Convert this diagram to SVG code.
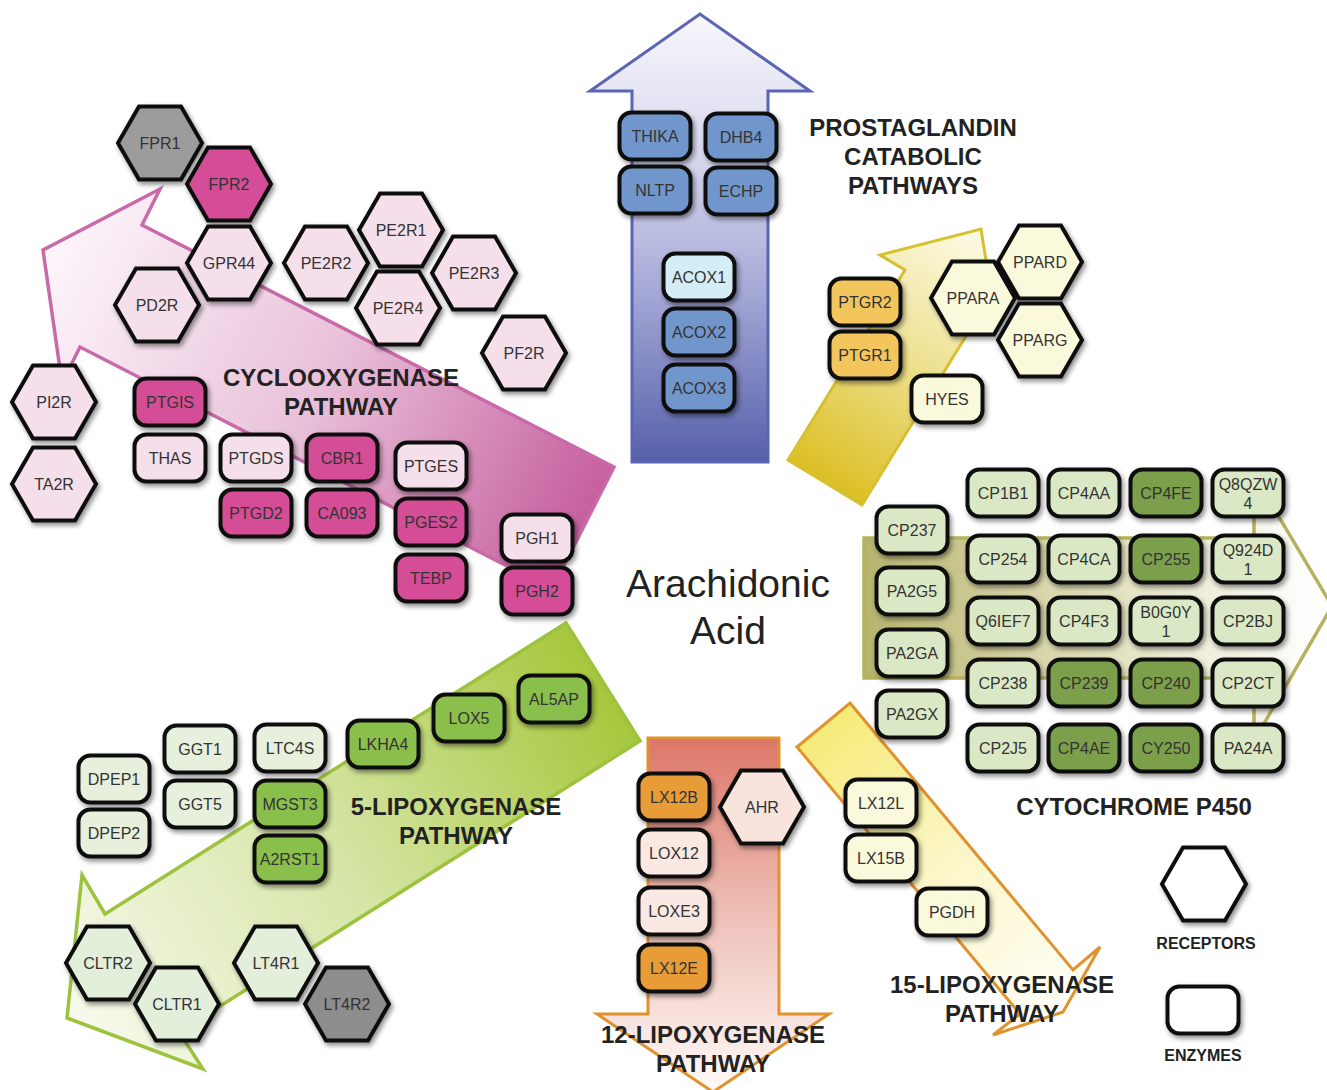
<svg xmlns="http://www.w3.org/2000/svg" width="1327" height="1090" viewBox="0 0 1327 1090">
<defs>
<style>
.hx,.bx{stroke:#111;stroke-width:4;filter:url(#sh)}
.l{font-family:"Liberation Sans",Arial,sans-serif;font-size:16px;fill:#333;text-anchor:middle}
.t{font-family:"Liberation Sans",Arial,sans-serif;font-weight:bold;font-size:24px;fill:#222;text-anchor:middle}
.s{font-family:"Liberation Sans",Arial,sans-serif;font-weight:bold;font-size:16px;fill:#222;text-anchor:middle}
.aa{font-family:"Liberation Sans",Arial,sans-serif;font-size:39px;fill:#222;text-anchor:middle}
.ar{stroke-linejoin:miter}
.gy{fill:#9c9c9c}.gy2{fill:#8d8d8d}.mag{fill:#d44e96}.lp{fill:#f5dfeb}
.bl{fill:#7196cb}.lb{fill:#d5edf7}.or{fill:#f2c65d}.cr{fill:#fbf9dc}
.cl{fill:#dbe8c5}.cd{fill:#7b9f4b}.g5{fill:#8bbf4b}.gl{fill:#e6f0dd}
.o12{fill:#e89c38}.p12{fill:#fae8e2}.ahr{fill:#f8e4dc}.cg{fill:#e3eedb}.wh{fill:#fff}
</style>
<filter id="sh" x="-25%" y="-25%" width="160%" height="170%">
<feDropShadow dx="2" dy="3" stdDeviation="2.5" flood-color="#000" flood-opacity="0.45"/>
</filter>
<path id="hex" d="M-42,0 L-21,-36.4 L21,-36.4 L42,0 L21,36.4 L-21,36.4 Z"/>
<rect id="box" x="-35.5" y="-23.5" width="71" height="47" rx="12"/>
<linearGradient id="gB" x1="0" y1="14" x2="0" y2="462" gradientUnits="userSpaceOnUse">
<stop offset="0" stop-color="#f7f7fc"/><stop offset="0.3" stop-color="#d9daef"/><stop offset="0.6" stop-color="#a9acd8"/><stop offset="1" stop-color="#5560aa"/></linearGradient>
<linearGradient id="gP" x1="43" y1="250" x2="583" y2="528" gradientUnits="userSpaceOnUse">
<stop offset="0" stop-color="#fdf6fa"/><stop offset="0.5" stop-color="#e9c2da"/><stop offset="1" stop-color="#c65f9e"/></linearGradient>
<linearGradient id="gY" x1="825" y1="483" x2="981" y2="229" gradientUnits="userSpaceOnUse">
<stop offset="0" stop-color="#dcbf24"/><stop offset="0.55" stop-color="#efe398"/><stop offset="1" stop-color="#fdfbe8"/></linearGradient>
<linearGradient id="gC" x1="864" y1="0" x2="1320" y2="0" gradientUnits="userSpaceOnUse">
<stop offset="0" stop-color="#b6b36e"/><stop offset="0.4" stop-color="#d9d7ab"/><stop offset="1" stop-color="#ffffff"/></linearGradient>
<linearGradient id="gG" x1="603" y1="682" x2="67" y2="1018" gradientUnits="userSpaceOnUse">
<stop offset="0" stop-color="#a6c73c"/><stop offset="0.5" stop-color="#d5e5a5"/><stop offset="1" stop-color="#f8faee"/></linearGradient>
<linearGradient id="gR" x1="0" y1="738" x2="0" y2="1092" gradientUnits="userSpaceOnUse">
<stop offset="0" stop-color="#dc7668"/><stop offset="0.5" stop-color="#efc0b8"/><stop offset="1" stop-color="#fefaf8"/></linearGradient>
<linearGradient id="gL" x1="823" y1="725" x2="1063" y2="1012" gradientUnits="userSpaceOnUse">
<stop offset="0" stop-color="#f6ea78"/><stop offset="0.5" stop-color="#fbf6c8"/><stop offset="1" stop-color="#fffef8"/></linearGradient>
</defs>
<rect width="1327" height="1090" fill="#fff"/>

<g id="connectors">
<polygon id="arrow-catabolic" class="ar" points="632,462 632,91 590,91 700,14 810,91 768,91 768,462" fill="url(#gB)" stroke="#5b64b5" stroke-width="3"/>
<polygon id="arrow-cox" class="ar" points="614,467 142,225 160,189 43,250 62,383 80,347 552,589" fill="url(#gP)" stroke="#c86aa9" stroke-width="3.5"/>
<polygon id="arrow-ptgr" class="ar" points="788,460 905,270 880,255 981,229 996,323 979,315 862,505" fill="url(#gY)" stroke="#d6c02e" stroke-width="3"/>
<polygon id="arrow-cyp" class="ar" points="864,538 1254,538 1254,475 1332,606 1254,741 1254,678 864,678" fill="url(#gC)" stroke="#b4b25c" stroke-width="3.5"/>
<polygon id="arrow-5lox" class="ar" points="566,623 105,914 82,875 67,1018 203,1069 179,1032 640,741" fill="url(#gG)" stroke="#9dc33e" stroke-width="3.5"/>
<polygon id="arrow-12lox" class="ar" points="648,738 779,738 779,1014 829,1014 713,1092 597,1014 648,1014" fill="url(#gR)" stroke="#e0922f" stroke-width="3"/>
<polygon id="arrow-15lox" class="ar" points="850,703 1073,970 1100,947 1063,1012 993,1035 1020,1014 797,747" fill="url(#gL)" stroke="#e0922f" stroke-width="3"/>
</g>

<g id="titles">
<text class="t" x="913" y="128" dy=".35em">PROSTAGLANDIN</text>
<text class="t" x="913" y="157" dy=".35em">CATABOLIC</text>
<text class="t" x="913" y="186" dy=".35em">PATHWAYS</text>
<text class="t" x="341" y="378" dy=".35em">CYCLOOXYGENASE</text>
<text class="t" x="341" y="407" dy=".35em">PATHWAY</text>
<text class="t" x="456" y="807" dy=".35em">5-LIPOXYGENASE</text>
<text class="t" x="456" y="836" dy=".35em">PATHWAY</text>
<text class="t" x="713" y="1035" dy=".35em">12-LIPOXYGENASE</text>
<text class="t" x="713" y="1064" dy=".35em">PATHWAY</text>
<text class="t" x="1002" y="985" dy=".35em">15-LIPOXYGENASE</text>
<text class="t" x="1002" y="1014" dy=".35em">PATHWAY</text>
<text class="t" x="1134" y="807" dy=".35em">CYTOCHROME P450</text>
<text class="s" x="1206" y="943" dy=".35em">RECEPTORS</text>
<text class="s" x="1203" y="1055" dy=".35em">ENZYMES</text>
<text class="aa" x="728" y="583" dy=".35em">Arachidonic</text>
<text class="aa" x="728" y="630" dy=".35em">Acid</text>
</g>

<!-- receptors (hexagons) -->
<g id="FPR1" transform="translate(160,143)"><use href="#hex" class="hx gy"/><text class="l" dy=".35em">FPR1</text></g>
<g id="FPR2" transform="translate(229,184)"><use href="#hex" class="hx mag"/><text class="l" dy=".35em">FPR2</text></g>
<g id="GPR44" transform="translate(229,263)"><use href="#hex" class="hx lp"/><text class="l" dy=".35em">GPR44</text></g>
<g id="PD2R" transform="translate(157,305)"><use href="#hex" class="hx lp"/><text class="l" dy=".35em">PD2R</text></g>
<g id="PE2R1" transform="translate(401,230)"><use href="#hex" class="hx lp"/><text class="l" dy=".35em">PE2R1</text></g>
<g id="PE2R2" transform="translate(326,263)"><use href="#hex" class="hx lp"/><text class="l" dy=".35em">PE2R2</text></g>
<g id="PE2R3" transform="translate(474,273)"><use href="#hex" class="hx lp"/><text class="l" dy=".35em">PE2R3</text></g>
<g id="PE2R4" transform="translate(398,308)"><use href="#hex" class="hx lp"/><text class="l" dy=".35em">PE2R4</text></g>
<g id="PF2R" transform="translate(524,353)"><use href="#hex" class="hx lp"/><text class="l" dy=".35em">PF2R</text></g>
<g id="PI2R" transform="translate(54,402)"><use href="#hex" class="hx lp"/><text class="l" dy=".35em">PI2R</text></g>
<g id="TA2R" transform="translate(54,484)"><use href="#hex" class="hx lp"/><text class="l" dy=".35em">TA2R</text></g>
<g id="PPARD" transform="translate(1040,262)"><use href="#hex" class="hx cr"/><text class="l" dy=".35em">PPARD</text></g>
<g id="PPARA" transform="translate(973,298)"><use href="#hex" class="hx cr"/><text class="l" dy=".35em">PPARA</text></g>
<g id="PPARG" transform="translate(1040,340)"><use href="#hex" class="hx cr"/><text class="l" dy=".35em">PPARG</text></g>
<g id="AHR" transform="translate(762,807)"><use href="#hex" class="hx ahr"/><text class="l" dy=".35em">AHR</text></g>
<g id="CLTR2" transform="translate(108,963)"><use href="#hex" class="hx cg"/><text class="l" dy=".35em">CLTR2</text></g>
<g id="CLTR1" transform="translate(177,1004)"><use href="#hex" class="hx cg"/><text class="l" dy=".35em">CLTR1</text></g>
<g id="LT4R1" transform="translate(276,963)"><use href="#hex" class="hx cg"/><text class="l" dy=".35em">LT4R1</text></g>
<g id="LT4R2" transform="translate(347,1004)"><use href="#hex" class="hx gy2"/><text class="l" dy=".35em">LT4R2</text></g>
<g id="legend-receptor" transform="translate(1204,884)"><use href="#hex" class="hx wh"/></g>

<!-- enzymes (rounded boxes) -->
<g id="THIKA" transform="translate(655,136)"><use href="#box" class="bx bl"/><text class="l" dy=".35em">THIKA</text></g>
<g id="DHB4" transform="translate(741,137)"><use href="#box" class="bx bl"/><text class="l" dy=".35em">DHB4</text></g>
<g id="NLTP" transform="translate(655,190)"><use href="#box" class="bx bl"/><text class="l" dy=".35em">NLTP</text></g>
<g id="ECHP" transform="translate(741,191)"><use href="#box" class="bx bl"/><text class="l" dy=".35em">ECHP</text></g>
<g id="ACOX1" transform="translate(699,277)"><use href="#box" class="bx lb"/><text class="l" dy=".35em">ACOX1</text></g>
<g id="ACOX2" transform="translate(699,332)"><use href="#box" class="bx bl"/><text class="l" dy=".35em">ACOX2</text></g>
<g id="ACOX3" transform="translate(699,388)"><use href="#box" class="bx bl"/><text class="l" dy=".35em">ACOX3</text></g>
<g id="PTGR2" transform="translate(865,302)"><use href="#box" class="bx or"/><text class="l" dy=".35em">PTGR2</text></g>
<g id="PTGR1" transform="translate(865,355)"><use href="#box" class="bx or"/><text class="l" dy=".35em">PTGR1</text></g>
<g id="HYES" transform="translate(947,399)"><use href="#box" class="bx cr"/><text class="l" dy=".35em">HYES</text></g>

<g id="PTGIS" transform="translate(170,402)"><use href="#box" class="bx mag"/><text class="l" dy=".35em">PTGIS</text></g>
<g id="THAS" transform="translate(170,458)"><use href="#box" class="bx lp"/><text class="l" dy=".35em">THAS</text></g>
<g id="PTGDS" transform="translate(256,458)"><use href="#box" class="bx lp"/><text class="l" dy=".35em">PTGDS</text></g>
<g id="PTGD2" transform="translate(256,513)"><use href="#box" class="bx mag"/><text class="l" dy=".35em">PTGD2</text></g>
<g id="CBR1" transform="translate(342,458)"><use href="#box" class="bx mag"/><text class="l" dy=".35em">CBR1</text></g>
<g id="CA093" transform="translate(342,513)"><use href="#box" class="bx mag"/><text class="l" dy=".35em">CA093</text></g>
<g id="PTGES" transform="translate(431,466)"><use href="#box" class="bx lp"/><text class="l" dy=".35em">PTGES</text></g>
<g id="PGES2" transform="translate(431,522)"><use href="#box" class="bx mag"/><text class="l" dy=".35em">PGES2</text></g>
<g id="TEBP" transform="translate(431,578)"><use href="#box" class="bx mag"/><text class="l" dy=".35em">TEBP</text></g>
<g id="PGH1" transform="translate(537,538)"><use href="#box" class="bx lp"/><text class="l" dy=".35em">PGH1</text></g>
<g id="PGH2" transform="translate(537,591)"><use href="#box" class="bx mag"/><text class="l" dy=".35em">PGH2</text></g>

<g id="CP237" transform="translate(912,530)"><use href="#box" class="bx cl"/><text class="l" dy=".35em">CP237</text></g>
<g id="PA2G5" transform="translate(912,591)"><use href="#box" class="bx cl"/><text class="l" dy=".35em">PA2G5</text></g>
<g id="PA2GA" transform="translate(912,653)"><use href="#box" class="bx cl"/><text class="l" dy=".35em">PA2GA</text></g>
<g id="PA2GX" transform="translate(912,714)"><use href="#box" class="bx cl"/><text class="l" dy=".35em">PA2GX</text></g>

<g id="CP1B1" transform="translate(1003,493)"><use href="#box" class="bx cl"/><text class="l" dy=".35em">CP1B1</text></g>
<g id="CP4AA" transform="translate(1084,493)"><use href="#box" class="bx cl"/><text class="l" dy=".35em">CP4AA</text></g>
<g id="CP4FE" transform="translate(1166,493)"><use href="#box" class="bx cd"/><text class="l" dy=".35em">CP4FE</text></g>
<g id="Q8QZW4" transform="translate(1248,493)"><use href="#box" class="bx cl"/><text class="l"><tspan x="0" y="-9" dy=".35em">Q8QZW</tspan><tspan x="0" y="10" dy=".35em">4</tspan></text></g>
<g id="CP254" transform="translate(1003,559)"><use href="#box" class="bx cl"/><text class="l" dy=".35em">CP254</text></g>
<g id="CP4CA" transform="translate(1084,559)"><use href="#box" class="bx cl"/><text class="l" dy=".35em">CP4CA</text></g>
<g id="CP255" transform="translate(1166,559)"><use href="#box" class="bx cd"/><text class="l" dy=".35em">CP255</text></g>
<g id="Q924D1" transform="translate(1248,559)"><use href="#box" class="bx cl"/><text class="l"><tspan x="0" y="-9" dy=".35em">Q924D</tspan><tspan x="0" y="10" dy=".35em">1</tspan></text></g>
<g id="Q6IEF7" transform="translate(1003,621)"><use href="#box" class="bx cl"/><text class="l" dy=".35em">Q6IEF7</text></g>
<g id="CP4F3" transform="translate(1084,621)"><use href="#box" class="bx cl"/><text class="l" dy=".35em">CP4F3</text></g>
<g id="B0G0Y1" transform="translate(1166,621)"><use href="#box" class="bx cl"/><text class="l"><tspan x="0" y="-9" dy=".35em">B0G0Y</tspan><tspan x="0" y="10" dy=".35em">1</tspan></text></g>
<g id="CP2BJ" transform="translate(1248,621)"><use href="#box" class="bx cl"/><text class="l" dy=".35em">CP2BJ</text></g>
<g id="CP238" transform="translate(1003,683)"><use href="#box" class="bx cl"/><text class="l" dy=".35em">CP238</text></g>
<g id="CP239" transform="translate(1084,683)"><use href="#box" class="bx cd"/><text class="l" dy=".35em">CP239</text></g>
<g id="CP240" transform="translate(1166,683)"><use href="#box" class="bx cd"/><text class="l" dy=".35em">CP240</text></g>
<g id="CP2CT" transform="translate(1248,683)"><use href="#box" class="bx cl"/><text class="l" dy=".35em">CP2CT</text></g>
<g id="CP2J5" transform="translate(1003,748)"><use href="#box" class="bx cl"/><text class="l" dy=".35em">CP2J5</text></g>
<g id="CP4AE" transform="translate(1084,748)"><use href="#box" class="bx cd"/><text class="l" dy=".35em">CP4AE</text></g>
<g id="CY250" transform="translate(1166,748)"><use href="#box" class="bx cd"/><text class="l" dy=".35em">CY250</text></g>
<g id="PA24A" transform="translate(1248,748)"><use href="#box" class="bx cl"/><text class="l" dy=".35em">PA24A</text></g>

<g id="AL5AP" transform="translate(554,699)"><use href="#box" class="bx g5"/><text class="l" dy=".35em">AL5AP</text></g>
<g id="LOX5" transform="translate(469,718)"><use href="#box" class="bx g5"/><text class="l" dy=".35em">LOX5</text></g>
<g id="LKHA4" transform="translate(383,744)"><use href="#box" class="bx g5"/><text class="l" dy=".35em">LKHA4</text></g>
<g id="LTC4S" transform="translate(290,748)"><use href="#box" class="bx gl"/><text class="l" dy=".35em">LTC4S</text></g>
<g id="MGST3" transform="translate(290,804)"><use href="#box" class="bx g5"/><text class="l" dy=".35em">MGST3</text></g>
<g id="A2RST1" transform="translate(290,859)"><use href="#box" class="bx g5"/><text class="l" dy=".35em">A2RST1</text></g>
<g id="GGT1" transform="translate(200,749)"><use href="#box" class="bx gl"/><text class="l" dy=".35em">GGT1</text></g>
<g id="GGT5" transform="translate(200,804)"><use href="#box" class="bx gl"/><text class="l" dy=".35em">GGT5</text></g>
<g id="DPEP1" transform="translate(114,779)"><use href="#box" class="bx gl"/><text class="l" dy=".35em">DPEP1</text></g>
<g id="DPEP2" transform="translate(114,833)"><use href="#box" class="bx gl"/><text class="l" dy=".35em">DPEP2</text></g>

<g id="LX12B" transform="translate(674,797)"><use href="#box" class="bx o12"/><text class="l" dy=".35em">LX12B</text></g>
<g id="LOX12" transform="translate(674,853)"><use href="#box" class="bx p12"/><text class="l" dy=".35em">LOX12</text></g>
<g id="LOXE3" transform="translate(674,911)"><use href="#box" class="bx p12"/><text class="l" dy=".35em">LOXE3</text></g>
<g id="LX12E" transform="translate(674,968)"><use href="#box" class="bx o12"/><text class="l" dy=".35em">LX12E</text></g>

<g id="LX12L" transform="translate(881,803)"><use href="#box" class="bx cr"/><text class="l" dy=".35em">LX12L</text></g>
<g id="LX15B" transform="translate(881,858)"><use href="#box" class="bx cr"/><text class="l" dy=".35em">LX15B</text></g>
<g id="PGDH" transform="translate(952,912)"><use href="#box" class="bx cr"/><text class="l" dy=".35em">PGDH</text></g>

<g id="legend-enzyme" transform="translate(1203,1010)"><use href="#box" class="bx wh"/></g>
</svg>
